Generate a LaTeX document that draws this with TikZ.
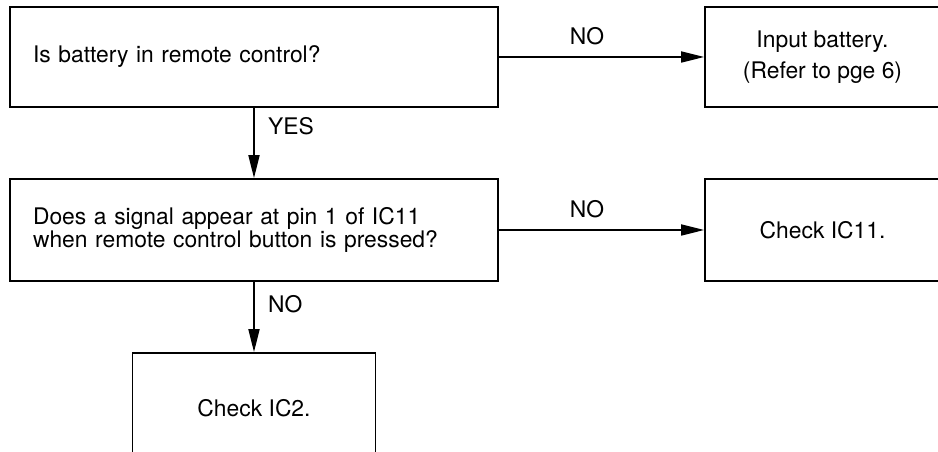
\documentclass[tikz,border=0pt]{standalone}
\usepackage{fontspec}
\setmainfont{TeX Gyre Heros}
\usetikzlibrary{arrows.meta,positioning}

\begin{document}
\begin{tikzpicture}[x=0.02cm,y=-0.02cm,
  font=\fontsize{13}{11.8}\selectfont,
  line width=1pt,
  >={Triangle[length=0.46cm,width=0.22cm]},
  box/.style={draw,inner sep=0pt,minimum height=2cm},
  askbox/.style={box,minimum width=9.76cm,text width=8.84cm,align=left},
  endbox/.style={box,minimum width=4.7cm,align=center},
  lbl/.style={inner sep=1pt}]
  \useasboundingbox (0,0) rectangle (938,452);
  \clip (0,0) rectangle (938,452);
  \fill[white] (0,0) rectangle (938,452);
  % questions on the left
  \node[askbox] (battin) at (254,57) {Is battery in remote control?};
  \node[askbox,minimum height=2.04cm] (signal) at (254,230)
    {Does a signal appear at pin 1 of IC11\\when remote control button is pressed?};
  % answers
  \node[endbox,font=\fontsize{13}{18}\selectfont] (putbatt) at (822.5,57)
    {Input battery.\\(Refer to pge 6)};
  \node[endbox,minimum height=2.04cm] (chkic11) at (822.5,230) {Check IC11.};
  \node[box,minimum width=4.86cm,minimum height=2.2cm] (chkic2) at (254,408) {Check IC2.};
  % connectors
  \draw[->] (battin) -- node[lbl,pos=0.43,above=0.18cm]{NO} (putbatt);
  \draw[->] (battin) -- node[lbl,pos=0.26,right=0.23cm]{YES} (signal);
  \draw[->] (signal) -- node[lbl,pos=0.43,above=0.18cm]{NO} (chkic11);
  \draw[->] (signal) -- node[lbl,pos=0.32,right=0.23cm]{NO} (chkic2);
\end{tikzpicture}
\end{document}
